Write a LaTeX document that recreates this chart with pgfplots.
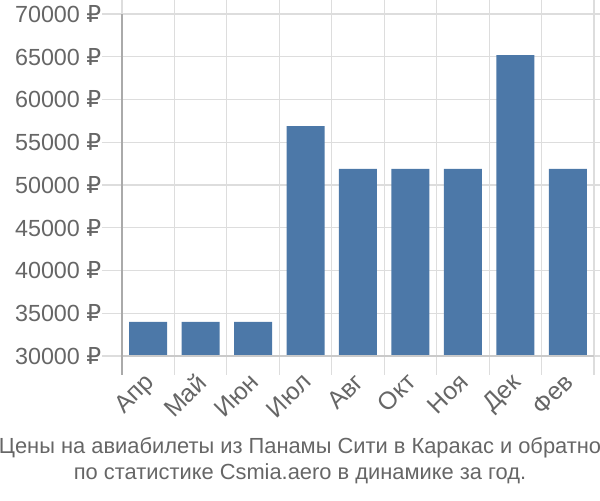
\documentclass[border=0pt]{standalone}
\usepackage{fontspec}
\setmainfont{Liberation Sans}
\newfontfamily\dejavu{DejaVu Sans}
\newcommand{\rub}{{\dejavu ₽}}
\usepackage{pgfplots}
\pgfplotsset{compat=1.18}
\definecolor{barblue}{HTML}{4C78A8}
\definecolor{txtgray}{HTML}{666666}
\definecolor{gridgray}{HTML}{DDDDDD}
\definecolor{axisgray}{HTML}{AAAAAA}
\begin{document}
\begin{tikzpicture}
\begin{axis}[
  at={(0,0)}, anchor=south west,
  scale only axis, width=354pt, height=256.5pt,
  xmin=-0.5, xmax=8.5, ymin=30000, ymax=70000,
  axis line style={draw=none},
  scaled y ticks=false,
  xtick={0,...,8},
  xticklabels={Апр,Май,Июн,Июл,Авг,Окт,Ноя,Дек,Фев},
  minor xtick={-0.5,0.5,...,8.5},
  ytick={30000,35000,...,70000},
  yticklabels={30000 \rub,35000 \rub,40000 \rub,45000 \rub,50000 \rub,55000 \rub,60000 \rub,65000 \rub,70000 \rub},
  tick align=outside,
  major tick length=0pt,
  minor tick length=14pt,
  ymajorgrids, xminorgrids,
  every minor tick/.style={draw=gridgray, line width=0.9pt},
  grid style={draw=gridgray, line width=0.9pt},
  minor grid style={draw=gridgray, line width=0.9pt},
  extra y ticks={30000,35000,...,70000},
  extra y tick labels={},
  extra y tick style={major tick length=15pt, tick style={draw=gridgray, line width=0.9pt}, grid=none},
  xticklabel style={xshift=-4pt, yshift=-11.5pt, rotate=45, anchor=north east, font=\fontsize{18.5}{21}\selectfont, text=txtgray, inner sep=0pt},
  yticklabel style={font=\fontsize{17.5}{20}\selectfont, text=txtgray, xshift=-12pt},
  /pgf/number format/assume math mode=true,
  clip=false,
]
\addplot[ybar, bar width=28.5pt, fill=barblue, draw=none, bar shift=0pt] coordinates {
(0,34000) (1,34000) (2,34000) (3,56900) (4,51900) (5,51900) (6,51900) (7,65200) (8,51900)};
\draw[gridgray!80!gray, line width=0.9pt] (axis cs:-0.5,30000) -- (axis cs:8.5,30000);
\draw[axisgray, line width=0.9pt] (axis cs:-0.5,70000) -- ([yshift=-14pt]axis cs:-0.5,30000);
\end{axis}
\node[text=txtgray, font=\fontsize{16.4}{19}\selectfont] at (133.5pt,-68.5pt) {Цены на авиабилеты из Панамы Сити в Каракас и обратно};
\node[text=txtgray, font=\fontsize{16.4}{19}\selectfont] at (133.5pt,-88pt) {по статистике Csmia.aero в динамике за год.};
\pgfresetboundingbox
\path (-91.5pt,-108pt) rectangle (358.5pt,267pt);
\end{tikzpicture}
\end{document}
